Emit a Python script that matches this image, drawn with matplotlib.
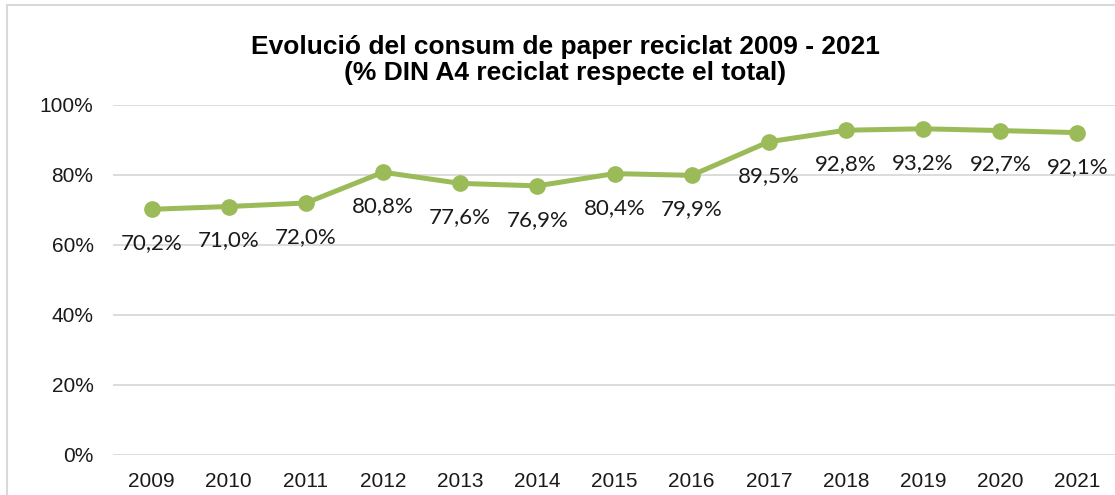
#!/usr/bin/env python3

import matplotlib.pyplot as plt
from matplotlib.patches import Rectangle
from matplotlib.ticker import FuncFormatter

years = ['2009', '2010', '2011', '2012', '2013', '2014', '2015',
         '2016', '2017', '2018', '2019', '2020', '2021']
recycled_pct = [70.2, 71.0, 72.0, 80.8, 77.6, 76.9, 80.4,
                79.9, 89.5, 92.8, 93.2, 92.7, 92.1]
y_ticks = [0, 20, 40, 60, 80, 100]

title = 'Evolució del consum de paper reciclat 2009 - 2021\n(% DIN A4 reciclat respecte el total)'

green = '#9BBB59'

fig = plt.figure(figsize=(11.15, 4.95), dpi=100)

# chart border (only top and left are visible in the crop)
fig.patches.append(Rectangle((7 / 1115, -0.2), 1.2, 1.2 - 5 / 495,
                             transform=fig.transFigure, fill=False,
                             edgecolor='#D9D9D9', linewidth=1.5))

ax = fig.add_axes([113 / 1115, 40 / 495, 1003 / 1115, 350 / 495])

x = list(range(len(years)))
ax.plot(x, recycled_pct, color=green, linewidth=3.6, marker='o',
        markersize=11, zorder=3)

for xi, val in zip(x, recycled_pct):
    ax.annotate(f'{val:.1f}%'.replace('.', ','), (xi, val),
                xytext=(0, -24.5), textcoords='offset points',
                ha='center', va='center', fontsize=16,
                family='Lato', color='#1a1a1a')

ax.set_xlim(-0.5, len(years) - 0.5)
ax.set_ylim(0, 100)
ax.set_xticks(x)
ax.set_xticklabels(years)
ax.set_yticks(y_ticks)
ax.yaxis.set_major_formatter(FuncFormatter(lambda v, p: f'{v:.0f}%'))
ax.grid(True, axis='y', color='#D9D9D9', linewidth=1.3)
ax.set_axisbelow(True)
for s in ax.spines.values():
    s.set_visible(False)
ax.tick_params(length=0, labelsize=15, labelcolor='#1a1a1a')
ax.tick_params(axis='x', pad=12)
ax.tick_params(axis='y', pad=14)
for lbl in ax.get_xticklabels() + ax.get_yticklabels():
    lbl.set_family('Liberation Sans')

fig.text(565 / 1115, 1 - 60 / 495, title, ha='center', va='center',
         fontsize=19, fontweight='bold', family='Liberation Sans',
         linespacing=1.15)

fig.savefig('out.png', dpi=100)
